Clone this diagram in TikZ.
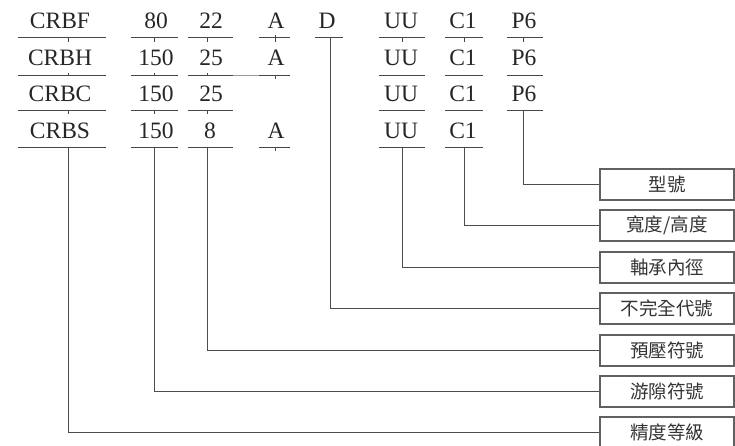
\documentclass[tikz,border=0pt]{standalone}
\usepackage{fontspec}
\setmainfont{Liberation Serif}
\newfontfamily\cjk{Noto Sans CJK TC}
\begin{document}
\begin{tikzpicture}[x=1pt,y=-1pt,
  code/.style={anchor=base,font=\fontsize{23.5}{23.5}\selectfont,text=black!85,inner sep=0pt},
  uline/.style={line width=1.7pt,draw=black!72},
  tick/.style={line width=1.1pt,draw=black!72},
  faint/.style={line width=0.7pt,draw=black!40},
  conn/.style={line width=1.7pt,draw=black!70},
  lbl/.style={draw=black!62,line width=1.4pt,minimum width=134pt,minimum height=31pt,inner sep=0pt,font=\cjk\fontsize{18.5}{18.5}\selectfont,text=black!80}]
\useasboundingbox (0,0) rectangle (735,445);
% ---------- row 1 ----------
\node[code] (t11) at (60,28.5) {CRBF};
\node[code] (t12) at (156,28.5) {80};
\node[code] (t13) at (211,28.5) {22};
\node[code] (t14) at (276,28.5) {A};
\node[code] (t15) at (327,28.5) {D};
\node[code] (t16) at (401,28.5) {UU};
\node[code] (t17) at (463,28.5) {C1};
\node[code] (t18) at (524,28.5) {P6};
% ---------- row 2 ----------
\node[code] (t21) at (60,65.5) {CRBH};
\node[code] (t22) at (156,65.5) {150};
\node[code] (t23) at (211,65.5) {25};
\node[code] (t24) at (276,65.5) {A};
\node[code] (t26) at (401,65.5) {UU};
\node[code] (t27) at (463,65.5) {C1};
\node[code] (t28) at (524,65.5) {P6};
% ---------- row 3 ----------
\node[code] (t31) at (60,101.5) {CRBC};
\node[code] (t32) at (156,101.5) {150};
\node[code] (t33) at (211,101.5) {25};
\node[code] (t36) at (401,101.5) {UU};
\node[code] (t37) at (463,101.5) {C1};
\node[code] (t38) at (524,101.5) {P6};
% ---------- row 4 ----------
\node[code] (t41) at (60,138) {CRBS};
\node[code] (t42) at (156,138) {150};
\node[code] (t43) at (210,138) {8};
\node[code] (t44) at (276,138) {A};
\node[code] (t46) at (401,138) {UU};
\node[code] (t47) at (463,138) {C1};
% ---------- underlines ----------
\foreach \y in {37.5,75.5,110.5,147.5}{
  \draw[uline] (18,\y) -- (106,\y);
  \draw[uline] (131,\y) -- (178,\y);
  \draw[uline] (188,\y) -- (233,\y);
  \draw[uline] (379,\y) -- (425,\y);
  \draw[uline] (445,\y) -- (483,\y);
}
\foreach \y in {37.5,75.5,147.5}{\draw[uline] (259,\y) -- (290,\y);}
\foreach \y in {37.5,75.5,110.5}{\draw[uline] (507,\y) -- (543,\y);}
\draw[uline] (315,37.5) -- (343,37.5);
\draw[faint] (233,75.5) -- (259,75.5);
% ---------- small ticks ----------
\foreach \x in {68.5,154.5,207.5,275.5,402.5,464.5,523.5}{\draw[tick] (\x,37.5) -- ++(0,4);}
\draw[tick] (275.5,37.5) -- ++(0,-3);
\foreach \x in {68.5,154.5,207.5}{\draw[tick] (\x,75.5) -- ++(0,-3);}
\draw[tick] (275.5,75.5) -- ++(0,3);
\foreach \x in {68.5,154.5,207.5}{\draw[tick] (\x,110.5) -- ++(0,3.5);}
\draw[tick] (275.5,147.5) -- ++(0,3);
% ---------- label boxes ----------
\node[lbl] (b1) at (667,184.5) {型號};
\node[lbl] (b2) at (667,225.5) {寬度/高度};
\node[lbl] (b3) at (667,267.5) {軸承內徑};
\node[lbl] (b4) at (667,308.5) {不完全代號};
\node[lbl] (b5) at (667,350.5) {預壓符號};
\node[lbl] (b6) at (667,391.5) {游隙符號};
\node[lbl] (b7) at (667,432.5) {精度等級};
% ---------- connector starts ----------
\coordinate (cP6) at (523.5,110.5);
\coordinate (cC1) at (464.5,147.5);
\coordinate (cUU) at (402.5,147.5);
\coordinate (cD)  at (330.5,37.5);
\coordinate (cPre) at (207.5,147.5);
\coordinate (cCl) at (154.5,147.5);
\coordinate (cAcc) at (68.5,147.5);
% ---------- connectors ----------
\draw[conn] (cP6) |- (b1.west);
\draw[conn] (cC1) |- (b2.west);
\draw[conn] (cUU) |- (b3.west);
\draw[conn] (cD) |- (b4.west);
\draw[conn] (cPre) |- (b5.west);
\draw[conn] (cCl) |- (b6.west);
\draw[conn] (cAcc) |- (b7.west);
\end{tikzpicture}
\end{document}
